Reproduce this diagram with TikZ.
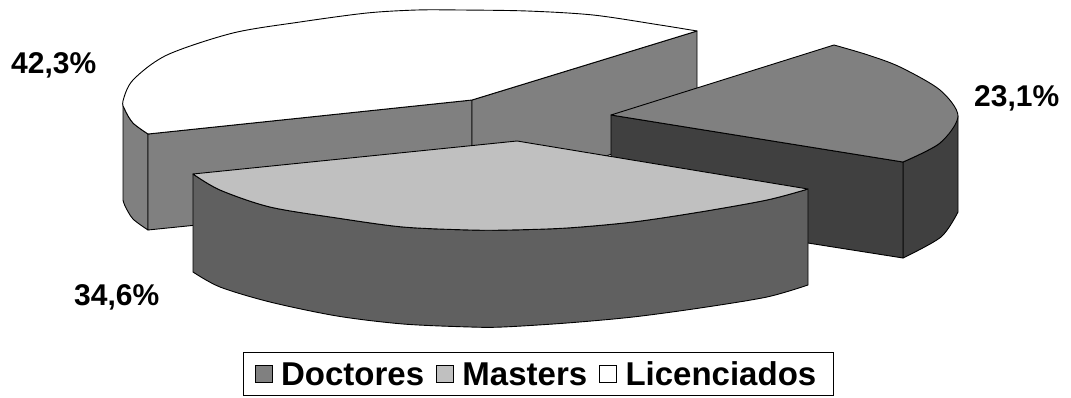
\documentclass[tikz,border=0pt]{standalone}
\usepackage{fontspec}
\setmainfont{Liberation Sans}
\usetikzlibrary{positioning}
\definecolor{licSide}{HTML}{808080}
\definecolor{docTop}{HTML}{808080}
\definecolor{docSide}{HTML}{404040}
\definecolor{masTop}{HTML}{C0C0C0}
\definecolor{masSide}{HTML}{606060}
\tikzset{
  face/.style={draw=black,line width=0.9pt,line join=round},
  pct/.style={font=\fontsize{30}{32}\selectfont\bfseries,inner sep=0pt},
  key/.style={draw=black,line width=0.9pt,minimum size=17pt,inner sep=0pt},
  keytext/.style={font=\fontsize{33}{35}\selectfont\bfseries,inner sep=0pt}
}
\begin{document}
\begin{tikzpicture}[x=1pt,y=-1pt]
    \useasboundingbox (0,0) rectangle (1071,398);
    %% Licenciados (back slice)
    \filldraw[face,fill=licSide] plot[smooth] coordinates {(123,103) (125,110) (133,123) (148,134)} -- (148,230) -- plot[smooth] coordinates {(148,230) (133,219) (125,206) (123,200)} -- cycle;
    \filldraw[face,fill=licSide] (148,134) -- (472,100) -- (472,197) -- (148,230) -- cycle;
    \filldraw[face,fill=licSide] (472,100) -- (697,31) -- (697,128) -- (472,197) -- cycle;
    \filldraw[face,fill=white] (472,100) -- (148,134) -- plot[smooth] coordinates {(148,134) (133,123) (125,110) (123,101) (133,80) (167,55) (233,33) (300,22) (367,13) (417,10) (460,10) (527,11) (593,15) (660,25) (697,31)} -- cycle;
    %% Doctores (right slice)
    \filldraw[face,fill=docSide] plot[smooth] coordinates {(903,162) (940,143) (958,116)} -- (958,212) -- plot[smooth] coordinates {(958,212) (941,237) (903,258)} -- cycle;
    \filldraw[face,fill=docSide] (611,115) -- (903,162) -- (903,258) -- (611,212) -- cycle;
    \filldraw[face,fill=docTop] (611,115) -- (834,45) -- plot[smooth] coordinates {(834,45) (868,55) (900,67) (940,90) (958,116) (940,143) (903,162)} -- cycle;
    %% Masters (front slice)
    \filldraw[face,fill=masSide] plot[smooth] coordinates {(193,174) (220,190) (270,207) (337,218) (403,227) (470,230) (510,230) (567,228) (633,222) (700,212) (767,200) (808,189)} -- (808,285) -- plot[smooth] coordinates {(808,285) (767,297) (700,308) (633,317) (567,323) (503,327) (470,327) (403,324) (337,316) (270,302) (220,287) (193,272)} -- cycle;
    \filldraw[face,fill=masTop] (517,141) -- (193,174) -- plot[smooth] coordinates {(193,174) (220,190) (270,207) (337,218) (403,227) (470,230) (510,230) (567,228) (633,222) (700,212) (767,200) (808,189)} -- cycle;
    %% Percentages
    \node[pct,anchor=base west] (plic) at (11,74) {42,3\%};
    \node[pct,anchor=base west] (pdoc) at (974,107) {23,1\%};
    \node[pct,anchor=base west] (pmas) at (74,305) {34,6\%};
    %% Legend
    \draw[line width=0.9pt] (243,352) rectangle (833,395);
    \node[key,fill=docTop] (kdoc) at (264,374) {};
    \node[keytext,right=8pt of kdoc] (tdoc) {Doctores};
    \node[key,fill=masTop,right=12pt of tdoc] (kmas) {};
    \node[keytext,right=8pt of kmas] (tmas) {Masters};
    \node[key,fill=white,right=12pt of tmas] (klic) {};
    \node[keytext,right=8pt of klic] (tlic) {Licenciados};
\end{tikzpicture}
\end{document}
